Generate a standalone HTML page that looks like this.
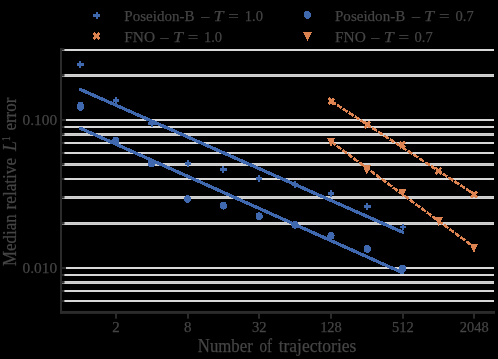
<!DOCTYPE html>
<html><head><meta charset="utf-8"><title>chart</title>
<style>
html,body{margin:0;padding:0;background:#000;}
body{width:498px;height:359px;overflow:hidden;position:relative;font-family:"Liberation Serif",serif;}
svg text{font-family:"Liberation Serif",serif;}
</style></head><body>
<svg width="498" height="359" viewBox="0 0 498 359" style="position:absolute;left:0;top:0">
<rect width="498" height="359" fill="#000"/>
<rect x="62" y="49" width="432" height="2" fill="#d8d8d8" shape-rendering="crispEdges"/>
<rect x="62" y="74" width="432" height="3" fill="#d2d2d2" shape-rendering="crispEdges"/>
<rect x="62" y="75" width="432" height="1" fill="#c8c8c8" shape-rendering="crispEdges"/>
<rect x="62" y="119" width="432" height="2" fill="#d8d8d8" shape-rendering="crispEdges"/>
<rect x="62" y="126" width="432" height="2" fill="#d8d8d8" shape-rendering="crispEdges"/>
<rect x="62" y="133" width="432" height="3" fill="#d2d2d2" shape-rendering="crispEdges"/>
<rect x="62" y="134" width="432" height="1" fill="#c8c8c8" shape-rendering="crispEdges"/>
<rect x="62" y="142" width="432" height="2" fill="#d8d8d8" shape-rendering="crispEdges"/>
<rect x="62" y="152" width="432" height="2" fill="#d8d8d8" shape-rendering="crispEdges"/>
<rect x="62" y="163" width="432" height="3" fill="#d2d2d2" shape-rendering="crispEdges"/>
<rect x="62" y="164" width="432" height="1" fill="#c8c8c8" shape-rendering="crispEdges"/>
<rect x="62" y="178" width="432" height="2" fill="#d8d8d8" shape-rendering="crispEdges"/>
<rect x="62" y="196" width="432" height="3" fill="#d2d2d2" shape-rendering="crispEdges"/>
<rect x="62" y="197" width="432" height="1" fill="#c8c8c8" shape-rendering="crispEdges"/>
<rect x="62" y="222" width="432" height="3" fill="#d2d2d2" shape-rendering="crispEdges"/>
<rect x="62" y="223" width="432" height="1" fill="#c8c8c8" shape-rendering="crispEdges"/>
<rect x="62" y="267" width="432" height="2" fill="#d8d8d8" shape-rendering="crispEdges"/>
<rect x="62" y="274" width="432" height="2" fill="#d8d8d8" shape-rendering="crispEdges"/>
<rect x="62" y="281" width="432" height="3" fill="#d2d2d2" shape-rendering="crispEdges"/>
<rect x="62" y="282" width="432" height="1" fill="#c8c8c8" shape-rendering="crispEdges"/>
<rect x="62" y="290" width="432" height="2" fill="#d8d8d8" shape-rendering="crispEdges"/>
<rect x="62" y="300" width="432" height="2" fill="#d8d8d8" shape-rendering="crispEdges"/>
<rect x="62" y="48.2" width="2.4" height="2" fill="#2b2b2b"/>
<rect x="62" y="50.2" width="2.4" height="0.8" fill="#6a6a6a"/>
<rect x="62" y="74" width="2.4" height="3" fill="#8a8a8a"/>
<rect x="62" y="74.1" width="2.4" height="2" fill="#2b2b2b"/>
<rect x="62" y="119" width="4" height="2" fill="#2b2b2b"/>
<rect x="62" y="126" width="2.4" height="2" fill="#2b2b2b"/>
<rect x="62" y="133" width="2.4" height="3" fill="#8a8a8a"/>
<rect x="62" y="133.1" width="2.4" height="2" fill="#2b2b2b"/>
<rect x="62" y="142" width="2.4" height="2" fill="#2b2b2b"/>
<rect x="62" y="152" width="2.4" height="2" fill="#2b2b2b"/>
<rect x="62" y="163" width="2.4" height="3" fill="#8a8a8a"/>
<rect x="62" y="163.1" width="2.4" height="2" fill="#2b2b2b"/>
<rect x="62" y="178" width="2.4" height="2" fill="#2b2b2b"/>
<rect x="62" y="196" width="2.4" height="3" fill="#8a8a8a"/>
<rect x="62" y="196.1" width="2.4" height="2" fill="#2b2b2b"/>
<rect x="62" y="222" width="2.4" height="3" fill="#8a8a8a"/>
<rect x="62" y="222.1" width="2.4" height="2" fill="#2b2b2b"/>
<rect x="62" y="267" width="4" height="2" fill="#2b2b2b"/>
<rect x="62" y="274" width="2.4" height="2" fill="#2b2b2b"/>
<rect x="62" y="281" width="2.4" height="3" fill="#8a8a8a"/>
<rect x="62" y="281.1" width="2.4" height="2" fill="#2b2b2b"/>
<rect x="62" y="290" width="2.4" height="2" fill="#2b2b2b"/>
<rect x="62" y="300" width="2.4" height="2" fill="#2b2b2b"/>
<line x1="80.49" y1="89.5" x2="402.88" y2="232.3" stroke="#4068ae" stroke-width="3.3" stroke-linecap="round" shape-rendering="crispEdges"/>
<line x1="80.49" y1="128.3" x2="402.88" y2="272.9" stroke="#4068ae" stroke-width="3.3" stroke-linecap="round" shape-rendering="crispEdges"/>
<line x1="331.2" y1="101.1" x2="474" y2="194.0" stroke="#dd8452" stroke-width="2.6" stroke-dasharray="5.6 1.4" shape-rendering="crispEdges"/>
<line x1="331.05" y1="141.63" x2="474" y2="247.1" stroke="#dd8452" stroke-width="2.6" stroke-dasharray="5.6 1.4" shape-rendering="crispEdges"/>
<rect x="79.25" y="61.05" width="2.1" height="6.9" fill="#4068ae" shape-rendering="crispEdges"/><rect x="77.00" y="63.10" width="6.6" height="2.8" fill="#4068ae" shape-rendering="crispEdges"/>
<rect x="114.85" y="97.25" width="2.1" height="6.9" fill="#4068ae" shape-rendering="crispEdges"/><rect x="112.60" y="99.30" width="6.6" height="2.8" fill="#4068ae" shape-rendering="crispEdges"/>
<rect x="150.65" y="119.75" width="2.1" height="6.9" fill="#4068ae" shape-rendering="crispEdges"/><rect x="148.40" y="121.80" width="6.6" height="2.8" fill="#4068ae" shape-rendering="crispEdges"/>
<rect x="186.85" y="159.75" width="2.1" height="6.9" fill="#4068ae" shape-rendering="crispEdges"/><rect x="184.60" y="161.80" width="6.6" height="2.8" fill="#4068ae" shape-rendering="crispEdges"/>
<rect x="222.15" y="165.95" width="2.1" height="6.9" fill="#4068ae" shape-rendering="crispEdges"/><rect x="219.90" y="168.00" width="6.6" height="2.8" fill="#4068ae" shape-rendering="crispEdges"/>
<rect x="258.05" y="174.85" width="2.1" height="6.9" fill="#4068ae" shape-rendering="crispEdges"/><rect x="255.80" y="176.90" width="6.6" height="2.8" fill="#4068ae" shape-rendering="crispEdges"/>
<rect x="293.85" y="180.85" width="2.1" height="6.9" fill="#4068ae" shape-rendering="crispEdges"/><rect x="291.60" y="182.90" width="6.6" height="2.8" fill="#4068ae" shape-rendering="crispEdges"/>
<rect x="329.95" y="189.85" width="2.1" height="6.9" fill="#4068ae" shape-rendering="crispEdges"/><rect x="327.70" y="191.90" width="6.6" height="2.8" fill="#4068ae" shape-rendering="crispEdges"/>
<rect x="366.15" y="202.85" width="2.1" height="6.9" fill="#4068ae" shape-rendering="crispEdges"/><rect x="363.90" y="204.90" width="6.6" height="2.8" fill="#4068ae" shape-rendering="crispEdges"/>
<rect x="401.75" y="223.55" width="2.1" height="6.9" fill="#4068ae" shape-rendering="crispEdges"/><rect x="399.50" y="225.60" width="6.6" height="2.8" fill="#4068ae" shape-rendering="crispEdges"/>
<ellipse cx="80.50" cy="106.30" rx="3.6" ry="4.4" fill="#4068ae" shape-rendering="crispEdges"/>
<ellipse cx="115.80" cy="140.70" rx="3.6" ry="3.9" fill="#4068ae" shape-rendering="crispEdges"/>
<ellipse cx="151.60" cy="163.50" rx="3.6" ry="3.9" fill="#4068ae" shape-rendering="crispEdges"/>
<ellipse cx="187.50" cy="199.00" rx="3.6" ry="3.9" fill="#4068ae" shape-rendering="crispEdges"/>
<ellipse cx="223.40" cy="205.70" rx="3.6" ry="3.9" fill="#4068ae" shape-rendering="crispEdges"/>
<ellipse cx="259.10" cy="216.20" rx="3.6" ry="3.9" fill="#4068ae" shape-rendering="crispEdges"/>
<ellipse cx="294.90" cy="224.80" rx="3.6" ry="3.9" fill="#4068ae" shape-rendering="crispEdges"/>
<ellipse cx="331.00" cy="235.80" rx="3.6" ry="3.9" fill="#4068ae" shape-rendering="crispEdges"/>
<ellipse cx="367.20" cy="248.90" rx="3.6" ry="3.9" fill="#4068ae" shape-rendering="crispEdges"/>
<ellipse cx="402.60" cy="268.40" rx="3.6" ry="3.9" fill="#4068ae" shape-rendering="crispEdges"/>
<path d="M329.38 97.15L331.20 99.17L333.02 97.15L334.85 99.17L333.02 101.20L334.85 103.23L333.02 105.25L331.20 103.23L329.38 105.25L327.55 103.23L329.38 101.20L327.55 99.17Z" fill="#dd8452" shape-rendering="crispEdges"/>
<path d="M365.38 120.75L367.20 122.77L369.02 120.75L370.85 122.77L369.02 124.80L370.85 126.83L369.02 128.85L367.20 126.83L365.38 128.85L363.55 126.83L365.38 124.80L363.55 122.77Z" fill="#dd8452" shape-rendering="crispEdges"/>
<path d="M400.57 140.55L402.40 142.57L404.22 140.55L406.05 142.57L404.22 144.60L406.05 146.62L404.22 148.65L402.40 146.62L400.57 148.65L398.75 146.62L400.57 144.60L398.75 142.57Z" fill="#dd8452" shape-rendering="crispEdges"/>
<path d="M436.68 166.75L438.50 168.78L440.32 166.75L442.15 168.78L440.32 170.80L442.15 172.83L440.32 174.85L438.50 172.83L436.68 174.85L434.85 172.83L436.68 170.80L434.85 168.78Z" fill="#dd8452" shape-rendering="crispEdges"/>
<path d="M472.12 190.45L473.95 192.47L475.77 190.45L477.60 192.47L475.77 194.50L477.60 196.53L475.77 198.55L473.95 196.53L472.12 198.55L470.30 196.53L472.12 194.50L470.30 192.47Z" fill="#dd8452" shape-rendering="crispEdges"/>
<path d="M326.90 137.90H335.20L331.05 146.90Z" fill="#dd8452" shape-rendering="crispEdges"/>
<path d="M362.55 165.40H370.85L366.70 174.40Z" fill="#dd8452" shape-rendering="crispEdges"/>
<path d="M398.45 188.60H406.75L402.60 197.60Z" fill="#dd8452" shape-rendering="crispEdges"/>
<path d="M434.55 216.90H442.85L438.70 225.90Z" fill="#dd8452" shape-rendering="crispEdges"/>
<path d="M469.80 243.85H478.10L473.95 252.85Z" fill="#dd8452" shape-rendering="crispEdges"/>
<rect x="60" y="48" width="2" height="265.9" fill="#2b2b2b"/>
<rect x="60" y="311" width="435" height="2.9" fill="#2b2b2b"/>
<g style="opacity:0.995">
<rect x="115" y="313" width="2" height="5.7" fill="#2b2b2b"/>
<text x="112.25" y="332.4" font-size="15.5" fill="#464646" stroke="#464646" stroke-width="0.25" text-anchor="start" textLength="7.5" lengthAdjust="spacingAndGlyphs">2</text>
<rect x="187" y="313" width="2" height="5.7" fill="#2b2b2b"/>
<text x="184.05" y="332.4" font-size="15.5" fill="#464646" stroke="#464646" stroke-width="0.25" text-anchor="start" textLength="7.5" lengthAdjust="spacingAndGlyphs">8</text>
<rect x="258" y="313" width="2" height="5.7" fill="#2b2b2b"/>
<text x="252.0" y="332.4" font-size="15.5" fill="#464646" stroke="#464646" stroke-width="0.25" text-anchor="start" textLength="14.6" lengthAdjust="spacingAndGlyphs">32</text>
<rect x="330" y="313" width="2" height="5.7" fill="#2b2b2b"/>
<text x="320.15" y="332.4" font-size="15.5" fill="#464646" stroke="#464646" stroke-width="0.25" text-anchor="start" textLength="21.699999999999996" lengthAdjust="spacingAndGlyphs">128</text>
<rect x="402" y="313" width="2" height="5.7" fill="#2b2b2b"/>
<text x="391.95" y="332.4" font-size="15.5" fill="#464646" stroke="#464646" stroke-width="0.25" text-anchor="start" textLength="21.699999999999996" lengthAdjust="spacingAndGlyphs">512</text>
<rect x="473" y="313" width="2" height="5.7" fill="#2b2b2b"/>
<text x="459.8" y="332.4" font-size="15.5" fill="#464646" stroke="#464646" stroke-width="0.25" text-anchor="start" textLength="28.799999999999997" lengthAdjust="spacingAndGlyphs">2048</text>
<text x="22.5" y="125.1" font-size="15.5" fill="#464646" stroke="#464646" stroke-width="0.25" text-anchor="start" textLength="34.6" lengthAdjust="spacingAndGlyphs">0.100</text>
<text x="22.5" y="273.1" font-size="15.5" fill="#464646" stroke="#464646" stroke-width="0.25" text-anchor="start" textLength="34.6" lengthAdjust="spacingAndGlyphs">0.010</text>
<text x="197.8" y="351.7" font-size="17.8" fill="#464646" stroke="#464646" stroke-width="0.25" text-anchor="start" textLength="55" lengthAdjust="spacingAndGlyphs">Number</text>
<text x="259.5" y="351.7" font-size="17.8" fill="#464646" stroke="#464646" stroke-width="0.25" text-anchor="start" textLength="12.6" lengthAdjust="spacingAndGlyphs">of</text>
<text x="278.7" y="351.7" font-size="17.8" fill="#464646" stroke="#464646" stroke-width="0.25" text-anchor="start" textLength="77.6" lengthAdjust="spacingAndGlyphs">trajectories</text>
<g transform="translate(16.3,266.0) rotate(-90)">
<text x="0" y="0" font-size="17.8" fill="#464646" stroke="#464646" stroke-width="0.25" text-anchor="start" textLength="51.6" lengthAdjust="spacingAndGlyphs">Median</text>
<text x="56.6" y="0" font-size="17.8" fill="#464646" stroke="#464646" stroke-width="0.25" text-anchor="start" textLength="51.4" lengthAdjust="spacingAndGlyphs">relative</text>
<text x="115.0" y="0" font-size="17.8" fill="#464646" stroke="#464646" stroke-width="0.25" text-anchor="start" font-style="italic">L</text>
<text x="125.0" y="-6.0" font-size="11.5" fill="#464646" stroke="#464646" stroke-width="0.25" text-anchor="start" textLength="4.6" lengthAdjust="spacingAndGlyphs">1</text>
<text x="135.4" y="0" font-size="17.8" fill="#464646" stroke="#464646" stroke-width="0.25" text-anchor="start" textLength="32.9" lengthAdjust="spacingAndGlyphs">error</text>
</g>
<rect x="95.95" y="11.85" width="2.1" height="6.9" fill="#4068ae" shape-rendering="crispEdges"/><rect x="92.90" y="13.90" width="7.2" height="2.8" fill="#4068ae" shape-rendering="crispEdges"/>
<path d="M94.67 31.85L96.50 33.88L98.33 31.85L100.15 33.88L98.33 35.90L100.15 37.92L98.33 39.95L96.50 37.92L94.67 39.95L92.85 37.92L94.67 35.90L92.85 33.88Z" fill="#dd8452" shape-rendering="crispEdges"/>
<ellipse cx="307.50" cy="14.90" rx="3.6" ry="3.9" fill="#4068ae" shape-rendering="crispEdges"/>
<path d="M302.90 31.90H311.90L307.40 40.90Z" fill="#dd8452" shape-rendering="crispEdges"/>
<text x="124.3" y="20.9" font-size="15.5" fill="#464646" stroke="#464646" stroke-width="0.25" text-anchor="start" textLength="70.2" lengthAdjust="spacingAndGlyphs">Poseidon-B</text><text x="201.3" y="20.9" font-size="15.5" fill="#464646" stroke="#464646" stroke-width="0.25" text-anchor="start" textLength="8.0" lengthAdjust="spacingAndGlyphs">–</text><text x="213.4" y="20.9" font-size="15.5" fill="#464646" stroke="#464646" stroke-width="0.25" text-anchor="start" textLength="10.0" lengthAdjust="spacingAndGlyphs" font-style="italic">T</text><text x="228.3" y="20.9" font-size="15.5" fill="#464646" stroke="#464646" stroke-width="0.25" text-anchor="start" textLength="10.6" lengthAdjust="spacingAndGlyphs">=</text><text x="244.8" y="20.9" font-size="15.5" fill="#464646" stroke="#464646" stroke-width="0.25" text-anchor="start" textLength="18.2" lengthAdjust="spacingAndGlyphs">1.0</text>
<text x="124.3" y="41.9" font-size="15.5" fill="#464646" stroke="#464646" stroke-width="0.25" text-anchor="start" textLength="30.8" lengthAdjust="spacingAndGlyphs">FNO</text><text x="160.6" y="41.9" font-size="15.5" fill="#464646" stroke="#464646" stroke-width="0.25" text-anchor="start" textLength="8.0" lengthAdjust="spacingAndGlyphs">–</text><text x="173.0" y="41.9" font-size="15.5" fill="#464646" stroke="#464646" stroke-width="0.25" text-anchor="start" textLength="10.0" lengthAdjust="spacingAndGlyphs" font-style="italic">T</text><text x="187.8" y="41.9" font-size="15.5" fill="#464646" stroke="#464646" stroke-width="0.25" text-anchor="start" textLength="10.6" lengthAdjust="spacingAndGlyphs">=</text><text x="203.9" y="41.9" font-size="15.5" fill="#464646" stroke="#464646" stroke-width="0.25" text-anchor="start" textLength="18.2" lengthAdjust="spacingAndGlyphs">1.0</text>
<text x="335.0" y="20.9" font-size="15.5" fill="#464646" stroke="#464646" stroke-width="0.25" text-anchor="start" textLength="70.2" lengthAdjust="spacingAndGlyphs">Poseidon-B</text><text x="412.0" y="20.9" font-size="15.5" fill="#464646" stroke="#464646" stroke-width="0.25" text-anchor="start" textLength="8.0" lengthAdjust="spacingAndGlyphs">–</text><text x="424.1" y="20.9" font-size="15.5" fill="#464646" stroke="#464646" stroke-width="0.25" text-anchor="start" textLength="10.0" lengthAdjust="spacingAndGlyphs" font-style="italic">T</text><text x="439.0" y="20.9" font-size="15.5" fill="#464646" stroke="#464646" stroke-width="0.25" text-anchor="start" textLength="10.6" lengthAdjust="spacingAndGlyphs">=</text><text x="455.5" y="20.9" font-size="15.5" fill="#464646" stroke="#464646" stroke-width="0.25" text-anchor="start" textLength="18.2" lengthAdjust="spacingAndGlyphs">0.7</text>
<text x="335.0" y="41.9" font-size="15.5" fill="#464646" stroke="#464646" stroke-width="0.25" text-anchor="start" textLength="30.8" lengthAdjust="spacingAndGlyphs">FNO</text><text x="371.3" y="41.9" font-size="15.5" fill="#464646" stroke="#464646" stroke-width="0.25" text-anchor="start" textLength="8.0" lengthAdjust="spacingAndGlyphs">–</text><text x="383.7" y="41.9" font-size="15.5" fill="#464646" stroke="#464646" stroke-width="0.25" text-anchor="start" textLength="10.0" lengthAdjust="spacingAndGlyphs" font-style="italic">T</text><text x="398.5" y="41.9" font-size="15.5" fill="#464646" stroke="#464646" stroke-width="0.25" text-anchor="start" textLength="10.6" lengthAdjust="spacingAndGlyphs">=</text><text x="414.6" y="41.9" font-size="15.5" fill="#464646" stroke="#464646" stroke-width="0.25" text-anchor="start" textLength="18.2" lengthAdjust="spacingAndGlyphs">0.7</text>
</g>
</svg>
</body></html>
